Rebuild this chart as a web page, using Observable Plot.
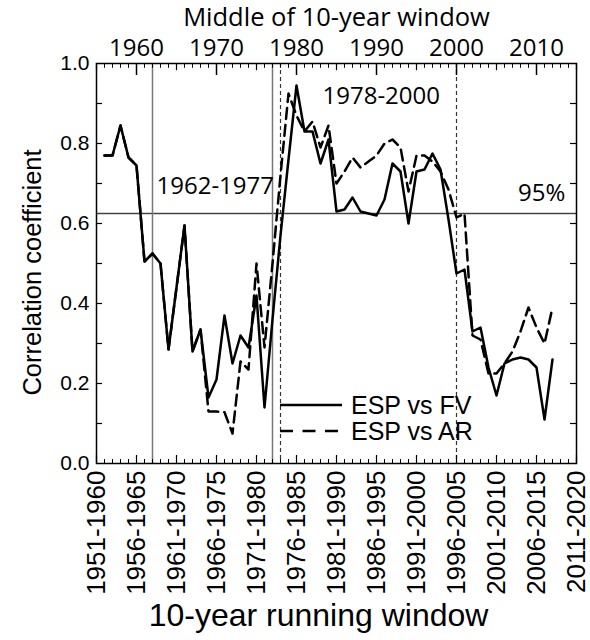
<!DOCTYPE html>
<html>
<head>
<meta charset="utf-8">
<script src="https://cdn.jsdelivr.net/npm/d3@7"></script>
<script src="https://cdn.jsdelivr.net/npm/@observablehq/plot@0.6"></script>
<style>
  body { margin: 0; background: #fff; }
  #chart svg { display: block; }
</style>
</head>
<body>
<div id="chart"></div>
<script>
// Middle year of each 10-year running window
const middleYears = [1956,1957,1958,1959,1960,1961,1962,1963,1964,1965,1966,1967,1968,1969,1970,
  1971,1972,1973,1974,1975,1976,1977,1978,1979,1980,1981,1982,1983,1984,1985,1986,1987,1988,1989,1990,
  1991,1992,1993,1994,1995,1996,1997,1998,1999,2000,2001,2002,2003,2004,2005,2006,2007,2008,2009,2010,2011,2012];

// ESP vs FV (solid)
const espVsFV = [0.77,0.77,0.845,0.765,0.745,0.505,0.525,0.50,0.285,0.44,0.595,0.28,0.335,0.165,0.21,
  0.37,0.25,0.32,0.29,0.42,0.14,0.36,0.57,0.76,0.945,0.83,0.83,0.75,0.81,0.63,0.635,0.665,0.63,0.625,0.62,
  0.66,0.75,0.73,0.60,0.73,0.735,0.775,0.735,0.61,0.475,0.485,0.33,0.34,0.24,0.17,0.25,0.26,0.265,0.26,0.24,0.11,0.26];

// ESP vs AR (dashed)
const espVsAR = [0.77,0.77,0.845,0.765,0.745,0.505,0.525,0.50,0.285,0.44,0.595,0.28,0.335,0.13,0.13,
  0.128,0.075,0.255,0.235,0.50,0.29,0.50,0.72,0.925,0.87,0.83,0.855,0.79,0.845,0.70,0.73,0.765,0.74,0.755,0.77,
  0.80,0.81,0.79,0.68,0.77,0.77,0.755,0.73,0.685,0.615,0.625,0.32,0.31,0.225,0.225,0.25,0.28,0.33,0.39,0.34,0.30,0.39];

// Axis ticks (bottom ticks given as middle years; labels show the window)
const bottomTicks = [1955,1960,1965,1970,1975,1980,1985,1990,1995,2000,2005,2010,2015];
const topTicks = [1960,1970,1980,1990,2000,2010];
const yTicks = [0,0.2,0.4,0.6,0.8,1.0];
const yMinorTicks = [0.1,0.2,0.3,0.4,0.5,0.6,0.7,0.8,0.9];
const sigLevel = [0.625];
const periodSolid = [1962, 1977];
const periodDashed = [1978, 2000];
const seriesNames = ["ESP vs FV", "ESP vs AR"];

const table = middleYears.map((year, i) => ({year, FV: espVsFV[i], AR: espVsAR[i]}));
const allYears = d3.range(1955, 2016);
const fiveYears = allYears.filter(y => y % 5 === 0);
const decadeYears = allYears.filter(y => y % 10 === 0);
const halfDecade = fiveYears.filter(y => y % 10 !== 0);

const SANS = "'Liberation Sans', Arial, sans-serif";
const SEGOE = "'Open Sans', 'Noto Sans', sans-serif";

function legendMark(index, scales, values, dims) {
  const g = d3.create("svg:g").attr("font-family", SANS).attr("font-size", 25)
    .attr("text-anchor", "start");
  const rows = [
    {y: 405, dash: null, label: seriesNames[0], x2: 342},
    {y: 431, dash: "13,9.5", label: seriesNames[1], x2: 338}
  ];
  for (const r of rows) {
    const l = g.append("line").attr("x1", 280).attr("x2", r.x2).attr("y1", r.y).attr("y2", r.y)
      .attr("stroke", "#000").attr("stroke-width", 2.5);
    if (r.dash) l.attr("stroke-dasharray", r.dash);
    g.append("text").attr("x", 351).attr("y", r.y + 8.5).attr("fill", "#000")
      .attr("text-anchor", "start").text(r.label);
  }
  return g.node();
}

const chart = Plot.plot({
  width: 590,
  height: 640,
  marginLeft: 96,
  marginRight: 14,
  marginTop: 63,
  marginBottom: 177,
  style: {fontFamily: SANS, fontSize: "20px", color: "#000", background: "#fff"},
  x: {domain: [1955, 2015], axis: null},
  y: {domain: [0, 1], axis: null},
  marks: [
    Plot.ruleY(sigLevel, {stroke: "#444", strokeWidth: 1.5}),
    Plot.ruleX(periodSolid, {stroke: "#777", strokeWidth: 1.5}),
    Plot.ruleX(periodDashed, {stroke: "#333", strokeWidth: 1.2, strokeDasharray: "4,3"}),
    Plot.line(table, {x: "year", y: "AR", stroke: "#000", strokeWidth: 2.5, strokeDasharray: "11,6"}),
    Plot.line(table, {x: "year", y: "FV", stroke: "#000", strokeWidth: 2.5}),
    // inward ticks
    Plot.ruleX(allYears, {x: d => d, y1: 0, y2: 0.01, stroke: "#000", strokeWidth: 1}),
    Plot.ruleX(fiveYears, {x: d => d, y1: 0, y2: 0.02, stroke: "#000", strokeWidth: 1.2}),
    Plot.ruleX(allYears, {x: d => d, y1: 1, y2: 0.988, stroke: "#000", strokeWidth: 1}),
    Plot.ruleX(halfDecade, {x: d => d, y1: 1, y2: 0.982, stroke: "#000", strokeWidth: 1.2}),
    Plot.ruleX(decadeYears, {x: d => d, y1: 1, y2: 0.97, stroke: "#000", strokeWidth: 1.5}),
    Plot.ruleY(yMinorTicks, {y: d => d, x1: 1955, x2: 1955.75, stroke: "#000", strokeWidth: 1.2}),
    Plot.ruleY(yMinorTicks, {y: d => d, x1: 2015, x2: 2014.25, stroke: "#000", strokeWidth: 1.2}),
    Plot.frame({stroke: "#000", strokeWidth: 1.5}),
    // axes
    Plot.axisX(bottomTicks, {anchor: "bottom", tickSize: 0, tickPadding: 7, tickRotate: -90,
      fontSize: 26, tickFormat: m => `${m - 4}-${m + 5}`, label: null}),
    Plot.axisX(topTicks, {anchor: "top", tickSize: 0, tickPadding: 8, fontSize: 24,
      fontFamily: SEGOE, tickFormat: d => String(d), label: null}),
    Plot.axisY(yTicks, {anchor: "left", tickSize: 0, tickPadding: 7, fontSize: 21,
      tickFormat: d3.format(".1f"), label: null}),
    // axis titles
    Plot.text(["10-year running window"], {frameAnchor: "bottom", dx: -18, dy: 152, fontSize: 32,
      textAnchor: "middle", lineAnchor: "middle"}),
    Plot.text(["Correlation coefficient"], {frameAnchor: "left", dx: -64, dy: 9, rotate: -90, fontSize: 25.5,
      textAnchor: "middle", lineAnchor: "middle"}),
    Plot.text(["Middle of 10-year window"], {frameAnchor: "top", dy: -46, fontSize: 25.5, fontFamily: SEGOE,
      textAnchor: "middle", lineAnchor: "middle"}),
    // annotations
    Plot.text(["1962-1977"], {x: 1962.5, y: 0.675, textAnchor: "start", lineAnchor: "bottom", fontSize: 24, fontFamily: SEGOE}),
    Plot.text(["1978-2000"], {x: 1983.25, y: 0.9, textAnchor: "start", lineAnchor: "bottom", fontSize: 24, fontFamily: SEGOE}),
    Plot.text(["95%"], {x: 2013.6, y: 0.657, textAnchor: "end", lineAnchor: "bottom", fontSize: 24, fontFamily: SEGOE}),
    legendMark
  ]
});
document.getElementById("chart").appendChild(chart);
</script>
</body>
</html>
